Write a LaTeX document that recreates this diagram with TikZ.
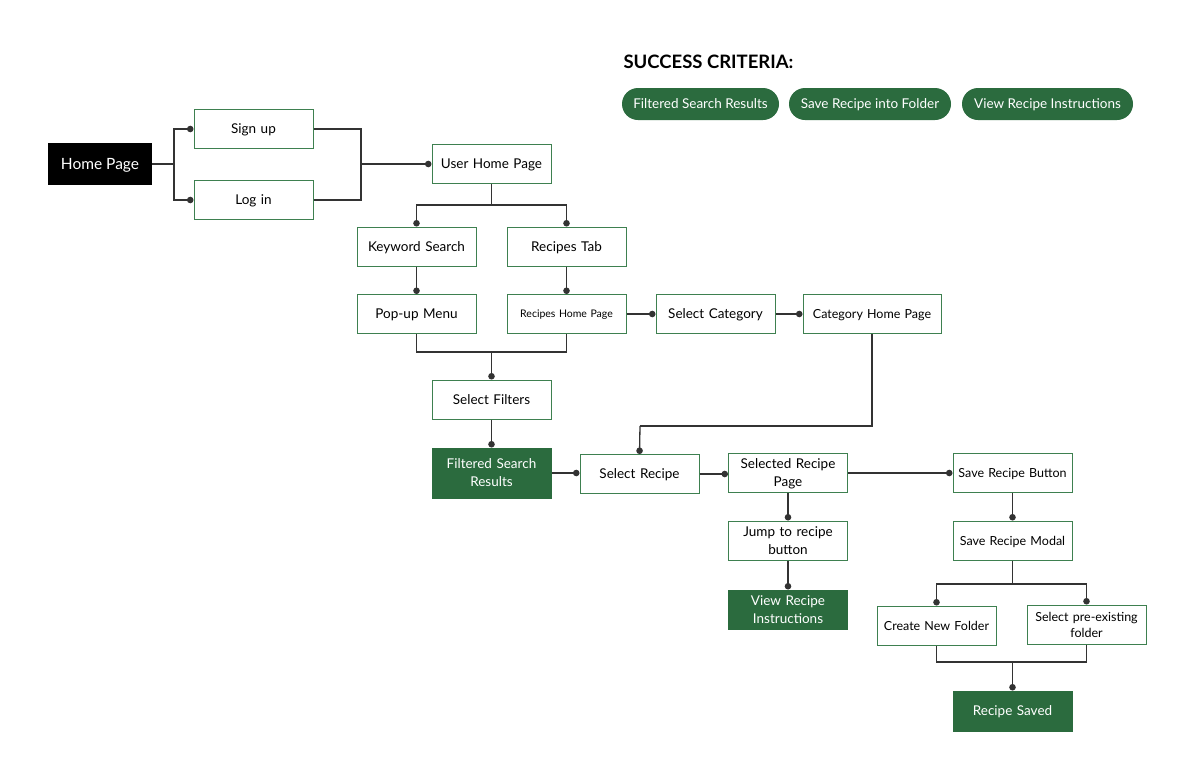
\documentclass[tikz,border=0pt]{standalone}
\usepackage{fontspec}
\setmainfont{Lato}
\usetikzlibrary{arrows.meta}
\definecolor{dgreen}{HTML}{2B6B3E}
\definecolor{bgreen}{HTML}{3E8050}
\definecolor{lgray}{HTML}{333333}
\tikzset{
  box/.style={draw=bgreen, line width=1pt, fill=white, minimum width=119, minimum height=39,
    inner sep=0pt, align=center, text width=112, font=\fontsize{13.5}{18}\selectfont,
    text height=9.7pt, text depth=0pt},
  twoline/.style={text height=9.7pt, text depth=18pt},
  smalltext/.style={font=\fontsize{12.5}{16}\selectfont, text height=9pt},
  gbox/.style={box, draw=dgreen, fill=dgreen, text=white},
  pill/.style={fill=dgreen, text=white, rounded corners=16, minimum height=32, inner sep=0pt,
    font=\fontsize{13.5}{15}\selectfont, text height=9.7pt, text depth=0pt},
  wire/.style={draw=lgray, line width=1.3pt, line join=miter},
  conn/.style={wire, -{Circle[length=6.5pt,width=6.5pt]}},
}
\begin{document}
\begin{tikzpicture}[x=1pt,y=-1pt]
\useasboundingbox[fill=white] (0,0) rectangle (1200,780);

% success criteria
\node[anchor=west, font=\fontsize{18.5}{22}\selectfont\bfseries] (sc) at (620,62) {SUCCESS CRITERIA:};
\node[pill, minimum width=157] (p1) at (700.5,104) {Filtered Search Results};
\node[pill, minimum width=162] (p2) at (870,104) {Save Recipe into Folder};
\node[pill, minimum width=171] (p3) at (1047.5,104) {View Recipe Instructions};

% nodes
\node[fill=black, text=white, minimum width=104, minimum height=42, inner sep=0pt,
  text height=11.2pt, text depth=0pt,
  font=\fontsize{15.5}{18}\selectfont] (home) at (100,164) {Home Page};
\node[box] (signup) at (253.5,129) {Sign up};
\node[box] (login) at (253.5,200) {Log in};
\node[box] (uhp) at (491.5,164) {User Home Page};
\node[box] (kw) at (416.5,246.5) {Keyword Search};
\node[box] (rt) at (566.5,246.5) {Recipes Tab};
\node[box] (popup) at (416.5,314) {Pop-up Menu};
\node[box, font=\fontsize{10.5}{12}\selectfont, text height=7.6pt] (rhp) at (566.5,314) {Recipes Home Page};
\node[box] (selcat) at (715.5,314) {Select Category};
\node[box, smalltext, minimum width=138, text width=134] (cathome) at (872,314) {Category Home Page};
\node[box] (filters) at (491.5,399.5) {Select Filters};
\node[gbox, twoline, minimum height=50] (fsr) at (491.5,473) {Filtered Search\\Results};
\node[box] (selrec) at (639.5,474) {Select Recipe};
\node[box, twoline] (srp) at (788,473) {Selected Recipe\\Page};
\node[box, smalltext] (srb) at (1012.5,473) {Save Recipe Button};
\node[box, twoline] (jump) at (788,540.5) {Jump to recipe\\button};
\node[gbox, twoline] (view) at (788,609.5) {View Recipe\\Instructions};
\node[box, smalltext] (modal) at (1012.5,540.5) {Save Recipe Modal};
\node[box, smalltext] (cnf) at (936.5,625.5) {Create New Folder};
\node[box, smalltext, text depth=16pt] (spf) at (1086.5,624.5) {Select pre-existing\\folder};
\node[gbox, minimum height=40] (saved) at (1012.5,711) {Recipe Saved};

% junctions
\coordinate (j1) at (174,164);
\coordinate (j2) at (361,164);
\coordinate (j3) at (491.5,205);
\coordinate (j4) at (491.5,352);
\coordinate (j5) at (640,426);
\coordinate (j6) at (1012.5,584);
\coordinate (j7) at (1012.5,662);

% connectors
\draw[wire] (home.east) -- (j1);
\draw[conn] (j1) |- (signup.west);
\draw[conn] (j1) |- (login.west);
\draw[wire] (signup.east) -| (j2);
\draw[wire] (login.east) -| (j2);
\draw[conn] (j2) -- (uhp.west);
\draw[wire] (uhp.south) -- (j3);
\draw[conn] (j3) -| (kw.north);
\draw[conn] (j3) -| (rt.north);
\draw[conn] (kw.south) -- (popup.north);
\draw[conn] (rt.south) -- (rhp.north);
\draw[wire] (popup.south) |- (j4);
\draw[wire] (rhp.south) |- (j4);
\draw[conn] (j4) -- (filters.north);
\draw[conn] (rhp.east) -- (selcat.west);
\draw[conn] (selcat.east) -- (cathome.west);
\draw[wire] (cathome.south) |- (j5);
\draw[conn] (j5) -- (selrec.north);
\draw[conn] (filters.south) -- (fsr.north);
\draw[conn] (fsr.east) -- (fsr.east -| selrec.west);
\draw[conn] (selrec.east) -- (selrec.east -| srp.west);
\draw[conn] (srp.east) -- (srb.west);
\draw[conn] (srp.south) -- (jump.north);
\draw[conn] (jump.south) -- (view.north);
\draw[conn] (srb.south) -- (modal.north);
\draw[wire] (modal.south) -- (j6);
\draw[conn] (j6) -| (cnf.north);
\draw[conn] (j6) -| (spf.north);
\draw[wire] (cnf.south) |- (j7);
\draw[wire] (spf.south) |- (j7);
\draw[conn] (j7) -- (saved.north);
\end{tikzpicture}
\end{document}
